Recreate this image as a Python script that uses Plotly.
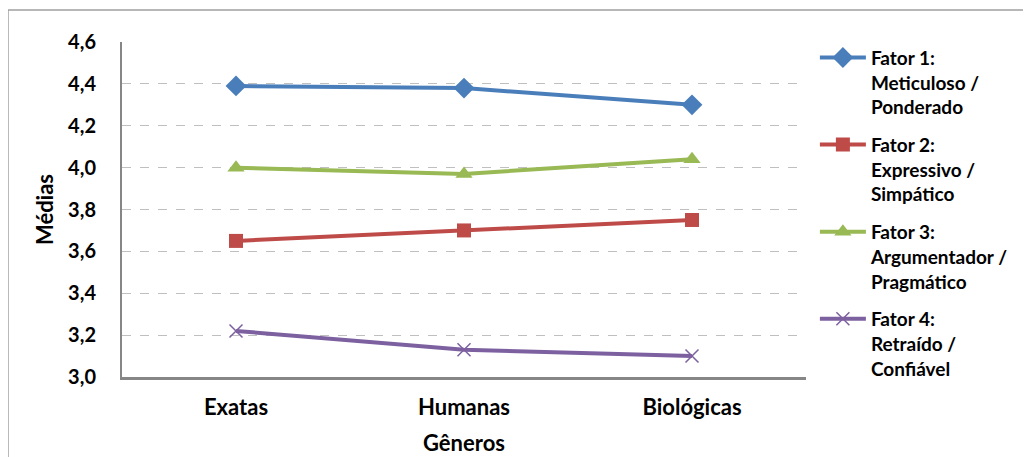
import plotly.graph_objects as go

categories = ["Exatas", "Humanas", "Biológicas"]
fator1 = [4.39, 4.38, 4.30]
fator2 = [3.65, 3.70, 3.75]
fator3 = [4.00, 3.97, 4.04]
fator4 = [3.22, 3.13, 3.10]
names = ["Fator 1:<br>Meticuloso /<br>Ponderado",
         "Fator 2:<br>Expressivo /<br>Simpático",
         "Fator 3:<br>Argumentador /<br>Pragmático",
         "Fator 4:<br>Retraído /<br>Confiável"]
tick_vals = [3.0, 3.2, 3.4, 3.6, 3.8, 4.0, 4.2, 4.4, 4.6]
tick_text = ["3,0", "3,2", "3,4", "3,6", "3,8", "4,0", "4,2", "4,4", "4,6"]

series = [fator1, fator2, fator3, fator4]
colors = ["#4A7EBB", "#BE4B48", "#98B954", "#7D60A0"]
symbols = ["diamond", "square", "triangle-up", "x-thin"]
sizes = [16, 14, 15, 13]

FONT = "Lato"
fig = go.Figure()
for i, (vals, nm, c, s, sz) in enumerate(zip(series, names, colors, symbols, sizes)):
    marker = dict(symbol=s, size=sz, color=c)
    if s == "x-thin":
        marker["line"] = dict(color=c, width=1.5)
    fig.add_trace(go.Scatter(
        x=categories, y=vals, name=nm, mode="lines+markers",
        line=dict(color=c, width=4), marker=marker,
        legendgroup=f"g{i}",
    ))

fig.update_layout(
    width=1031, height=457,
    margin=dict(l=114, r=233, t=34, b=88),
    paper_bgcolor="white", plot_bgcolor="white",
    font=dict(family=FONT, size=20, color="black", weight="bold"),
    showlegend=True,
    legend=dict(x=1.013, y=1.01, xanchor="left", yanchor="top",
                valign="top", tracegroupgap=10, itemwidth=46,
                maxheight=1.0,
                font=dict(family=FONT, size=19, color="black", weight="bold"),
                bgcolor="rgba(0,0,0,0)"),
    xaxis=dict(
        automargin=False,
        showgrid=False, showline=True, linecolor="#868686", linewidth=3,
        ticks="", ticklabelstandoff=9,
        tickfont=dict(family=FONT, size=22, weight="bold"),
        title=dict(text="Gêneros", font=dict(family=FONT, size=22, weight="bold"), standoff=17),
        range=[-0.5, 2.5],
    ),
    yaxis=dict(
        automargin=False,
        range=[3.0, 4.6], tickvals=tick_vals, ticktext=tick_text,
        showgrid=True, gridcolor="#BFBFBF", gridwidth=1, griddash="dash",
        showline=True, linecolor="#868686", linewidth=2,
        ticks="", ticklabelstandoff=20,
        tickfont=dict(family=FONT, size=20, weight="bold"),
        title=dict(text="Médias", font=dict(family=FONT, size=22, weight="bold"), standoff=8),
        zeroline=False,
    ),
    shapes=[dict(type="rect", xref="paper", yref="paper",
                 x0=-0.1667, x1=1.4, y0=-0.4, y1=1.0955,
                 line=dict(color="#A0A0A0", width=1.5), layer="below")],
)

fig.write_html("out.html")
